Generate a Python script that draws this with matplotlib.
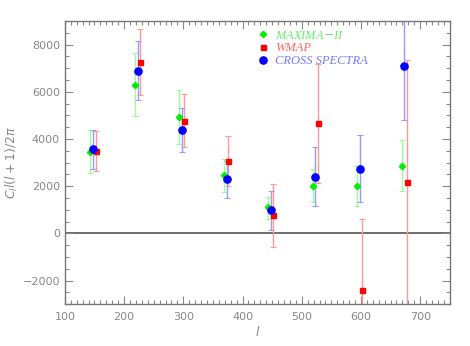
import matplotlib
matplotlib.use("Agg")
import matplotlib.pyplot as plt
import numpy as np
from matplotlib.ticker import MultipleLocator

# MAXIMA-II
max_l = [142, 219, 293, 369, 443, 519, 593, 669]
max_c = [3450, 6300, 4950, 2470, 1100, 2010, 1990, 2860]
max_top = [4370, 7660, 6080, 3160, 1550, 2710, 2850, 3940]
max_bot = [2580, 4990, 3810, 1735, 590, 1310, 1155, 1800]

# WMAP
wmap_l = [152, 227, 302, 376, 452, 527, 602, 677]
wmap_c = [3510, 7260, 4780, 3070, 760, 4670, -2400, 2180]
wmap_top = [4360, 8660, 5910, 4130, 2100, 7190, 590, 7350]
wmap_bot = [2650, 5850, 3650, 2000, -590, 2140, -5400, -3000]

# cross spectra
cross_l = [148, 223, 298, 373, 448, 523, 598, 673]
cross_c = [3570, 6900, 4390, 2300, 990, 2400, 2720, 7090]
cross_top = [4400, 8170, 5330, 3060, 1800, 3680, 4150, 9370]
cross_bot = [2750, 5640, 3440, 1520, 125, 1155, 1310, 4810]

fig = plt.figure(figsize=(4.7, 3.46), dpi=100)
ax = fig.add_axes([0.138, 0.121, 0.819, 0.818])

series = [
    (max_l, max_c, max_top, max_bot, "D", "#00ee00", "#99ff99", 3.2, "MAXIMA$-$II", "#66ee66"),
    (wmap_l, wmap_c, wmap_top, wmap_bot, "s", "#ff0000", "#ff9999", 3.6, "WMAP", "#ff6666"),
    (cross_l, cross_c, cross_top, cross_bot, "o", "#0000ff", "#9999ff", 5.2, "CROSS SPECTRA", "#7777ff"),
]

handles = []
for l, c, top, bot, mk, col, ecol, ms, lab, tcol in series:
    c = np.array(c)
    yerr = [c - np.array(bot), np.array(top) - c]
    ax.errorbar(l, c, yerr=yerr, fmt="none", ecolor=ecol, elinewidth=1,
                capsize=2, capthick=0.8, zorder=2)
    h, = ax.plot(l, c, mk, color=col, ms=ms, mec=col, zorder=3, label=lab)
    handles.append(h)

ax.axhline(0, color="#555555", lw=1.2, zorder=1)

ax.set_xlim(100, 750)
ax.set_ylim(-3000, 9000)
ax.xaxis.set_major_locator(MultipleLocator(100))
ax.xaxis.set_minor_locator(MultipleLocator(10))
ax.yaxis.set_major_locator(MultipleLocator(2000))
ax.yaxis.set_minor_locator(MultipleLocator(500))
ax.tick_params(which="both", direction="in", top=True, right=True,
               colors="#888888", labelcolor="#888888", labelsize=8, width=0.8)
ax.tick_params(which="major", length=6)
ax.tick_params(which="minor", length=3)
ax.tick_params(axis="x", pad=6)
for sp in ax.spines.values():
    sp.set_color("#777777")
    sp.set_linewidth(1.0)

ax.set_xlabel("$l$", color="#888888", fontsize=9, labelpad=2)
ax.set_ylabel("$C_l l(l+1)/2\\pi$", color="#888888", fontsize=9, labelpad=2)

leg = ax.legend(handles=handles, loc="upper left", bbox_to_anchor=(0.475, 1.0),
                frameon=False, handlelength=1.0, handletextpad=0.5,
                labelspacing=0.05, borderpad=0.2,
                prop={"family": "Liberation Serif", "style": "italic", "size": 9})
for t, s in zip(leg.get_texts(), series):
    t.set_color(s[9])

fig.savefig("out.png", dpi=100)
